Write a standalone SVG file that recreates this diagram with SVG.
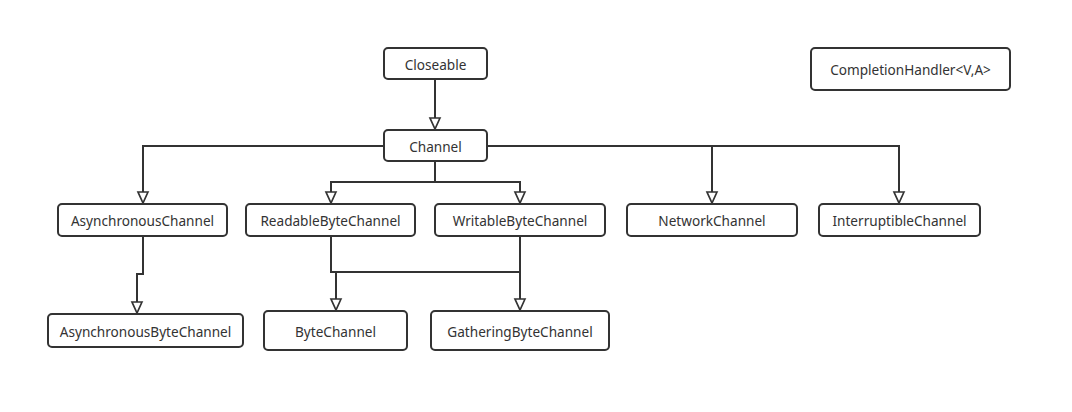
<svg xmlns="http://www.w3.org/2000/svg" width="1072" height="412" viewBox="0 0 1072 412">
<style>
.n rect{fill:#fff;stroke:#333;stroke-width:2}
.n text{font-family:"Noto Sans","Open Sans",sans-serif;font-size:13.6px;fill:#333;text-anchor:middle;dominant-baseline:central}
#edges path{fill:none;stroke:#333;stroke-width:2}
</style>
<defs>
<marker id="tri" markerUnits="userSpaceOnUse" markerWidth="14" markerHeight="14" viewBox="0 0 14 14" refX="12" refY="7" orient="auto">
<path d="M1,2 L12,7 L1,12 Z" fill="#fff" stroke="#333" stroke-width="1.7"/>
</marker>
</defs>
<rect width="1072" height="412" fill="#fff"/>
<g id="edges">
<path d="M435,79 V129" marker-end="url(#tri)"/>
<path d="M384,146 H143 V203" marker-end="url(#tri)"/>
<path d="M435,161 V182 H331 V203" marker-end="url(#tri)"/>
<path d="M435,182 H520 V203" marker-end="url(#tri)"/>
<path d="M487,146 H712 V203" marker-end="url(#tri)"/>
<path d="M712,146 H899 V203" marker-end="url(#tri)"/>
<path d="M143,236 V274 H137 V313" marker-end="url(#tri)"/>
<path d="M331,236 V272 H336 V310" marker-end="url(#tri)"/>
<path d="M520,236 V272 H336"/>
<path d="M520,272 V310" marker-end="url(#tri)"/>
</g>
<g id="closeable" class="n"><rect x="384" y="48" width="103" height="31" rx="4"/><text x="435.5" y="64">Closeable</text></g>
<g id="completionhandler" class="n"><rect x="811" y="48" width="199" height="42" rx="4"/><text x="910.5" y="69">CompletionHandler&lt;V,A&gt;</text></g>
<g id="channel" class="n"><rect x="384" y="130" width="103" height="31" rx="4"/><text x="435.5" y="146">Channel</text></g>
<g id="asynchronouschannel" class="n"><rect x="58" y="204" width="169" height="32" rx="4"/><text x="142.5" y="220">AsynchronousChannel</text></g>
<g id="readablebytechannel" class="n"><rect x="246" y="204" width="169" height="32" rx="4"/><text x="330.5" y="220">ReadableByteChannel</text></g>
<g id="writablebytechannel" class="n"><rect x="435" y="204" width="170" height="32" rx="4"/><text x="520" y="220">WritableByteChannel</text></g>
<g id="networkchannel" class="n"><rect x="627" y="204" width="170" height="32" rx="4"/><text x="712" y="220">NetworkChannel</text></g>
<g id="interruptiblechannel" class="n"><rect x="819" y="204" width="161" height="32" rx="4"/><text x="899.5" y="220">InterruptibleChannel</text></g>
<g id="asynchronousbytechannel" class="n"><rect x="48" y="314" width="195" height="33" rx="4"/><text x="145.5" y="331">AsynchronousByteChannel</text></g>
<g id="bytechannel" class="n"><rect x="264" y="311" width="143" height="39" rx="4"/><text x="335.5" y="331">ByteChannel</text></g>
<g id="gatheringbytechannel" class="n"><rect x="431" y="311" width="178" height="39" rx="4"/><text x="520" y="331">GatheringByteChannel</text></g>
</svg>
